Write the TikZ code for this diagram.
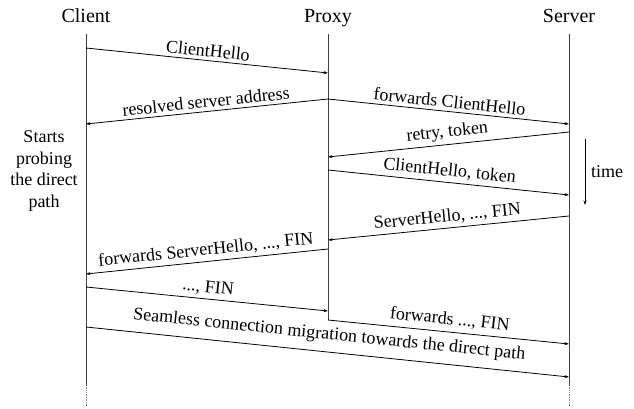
\documentclass[tikz,border=0pt]{standalone}
\usepackage{fontspec}
\setmainfont{Liberation Serif}
\usetikzlibrary{arrows.meta}
\begin{document}
\begin{tikzpicture}[x=1pt,y=-1pt,
  title/.style={font=\fontsize{20}{24}\selectfont, anchor=base, inner sep=0pt},
  lbl/.style={font=\fontsize{18}{21}\selectfont, midway, above, sloped},
  life/.style={line width=0.7pt, black!75},
  lifeend/.style={line width=0.7pt, black!50, densely dotted},
  msg/.style={line width=0.8pt, -{Stealth[length=4.5pt,width=3pt]}},
]
\useasboundingbox (0,0) rectangle (634,409);
% titles
\node[title] (client) at (86,23) {Client};
\node[title] (proxy) at (328,23) {Proxy};
\node[title] (server) at (569,23) {Server};
% lifelines
\coordinate (ct) at (86,34);  \coordinate (cb) at (86,385); \coordinate (ce) at (86,407);
\coordinate (pt) at (328,34); \coordinate (pb) at (328,320);
\coordinate (st) at (569,34); \coordinate (sb) at (569,385); \coordinate (se) at (569,407);
\draw[life] (ct) -- (cb);
\draw[lifeend] (cb) -- (ce);
\draw[life] (pt) -- (pb);
\draw[life] (st) -- (sb);
\draw[lifeend] (sb) -- (se);
% message points
\coordinate (c1) at (86,48);   \coordinate (p1) at (328,73);
\coordinate (p2) at (328,99);  \coordinate (c2) at (86,124);  \coordinate (s2) at (569,124);
\coordinate (s3) at (569,132); \coordinate (p3) at (328,157);
\coordinate (p4) at (328,170); \coordinate (s4) at (569,195);
\coordinate (s5) at (569,216); \coordinate (p5) at (328,240);
\coordinate (p6) at (328,249); \coordinate (c6) at (86,274);
\coordinate (c7) at (86,287);  \coordinate (p7) at (328,311);
\coordinate (p8) at (328,320); \coordinate (s8) at (569,344);
\coordinate (c9) at (86,327);  \coordinate (s9) at (569,377);
% messages
\draw[msg] (c1) -- node[lbl] {ClientHello} (p1);
\draw[msg] (p2) -- node[lbl] {resolved server address} (c2);
\draw[msg] (p2) -- node[lbl] {forwards ClientHello} (s2);
\draw[msg] (s3) -- node[lbl] {retry, token} (p3);
\draw[msg] (p4) -- node[lbl] {ClientHello, token} (s4);
\draw[msg] (s5) -- node[lbl] {ServerHello, ..., FIN} (p5);
\draw[msg] (p6) -- node[lbl] {forwards ServerHello, ..., FIN} (c6);
\draw[msg] (c7) -- node[lbl] {..., FIN} (p7);
\draw[msg] (p8) -- node[lbl, above=1pt] {forwards ..., FIN} (s8);
\draw[msg] (c9) -- node[lbl, above=5pt] {Seamless connection migration towards the direct path} (s9);
% note
\node[font=\fontsize{18}{21.7}\selectfont, align=center, inner sep=0pt] (note) at (44,171) {Starts\\probing\\the direct\\path};
% time arrow
\coordinate (t1) at (585,139); \coordinate (t2) at (585,205);
\draw[msg] (t1) -- (t2);
\node[font=\fontsize{18}{21}\selectfont, anchor=west, inner sep=0pt] (time) at (591,172) {time};
\end{tikzpicture}
\end{document}
